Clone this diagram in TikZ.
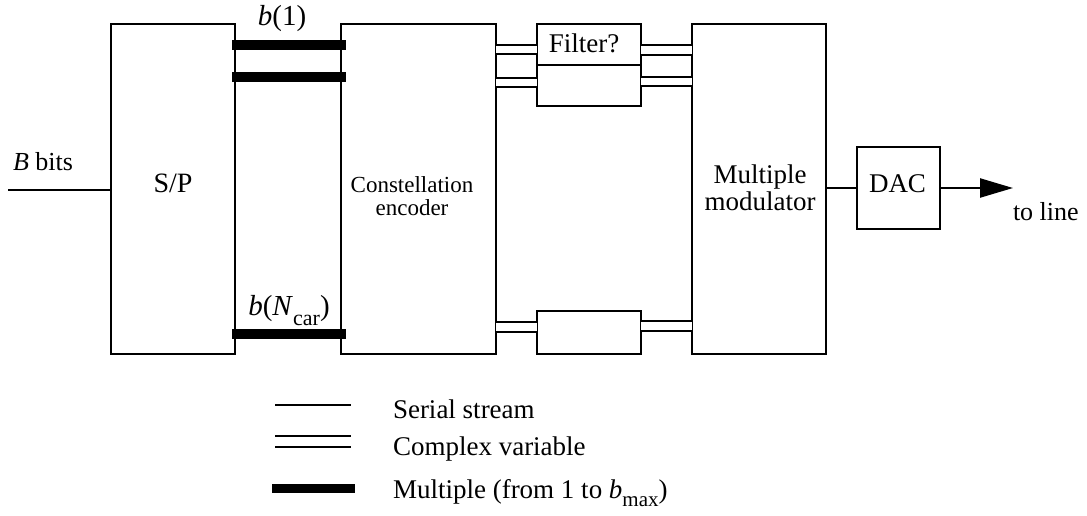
\documentclass[tikz,border=0pt]{standalone}
\usepackage{fontspec}
\setmainfont{Liberation Serif}
\usetikzlibrary{arrows.meta}
\newcommand\sz[1]{\fontsize{#1}{#1}\selectfont}
\begin{document}
\begin{tikzpicture}[x=1pt,y=-1pt,
  blk/.style={draw, line width=2.5pt, inner sep=0pt, outer sep=0pt},
  txt/.style={inner sep=0pt, outer sep=0pt, font=\sz{27}},
  serial/.style={line width=2.3pt},
  cplx/.style={double, double distance=7.8pt, line width=1.9pt},
  multi/.style={line width=10pt},
]
\useasboundingbox (0,0) rectangle (1087,516);

% processing blocks
\node[blk, minimum width=124pt, minimum height=330pt] (sp)  at (173,189) {};
\node[blk, minimum width=155pt, minimum height=330pt] (enc) at (418.5,189) {};
\node[blk, minimum width=104pt, minimum height=41pt]  (f1)  at (589,44.5) {};
\node[blk, minimum width=104pt, minimum height=41pt]  (f2)  at (589,85.5) {};
\node[blk, minimum width=104pt, minimum height=43pt]  (fn)  at (589,332.5) {};
\node[blk, minimum width=134pt, minimum height=330pt] (mod) at (759,189) {};
\node[blk, minimum width=83pt,  minimum height=82pt]  (dac) at (898.5,188) {};

% block labels
\node[txt, anchor=base, font=\sz{28}] (spT) at (173,192) {S/P};
\node[txt, align=center, font=\sz{23}, anchor=center] (encT) at (412,196) {Constellation\\[0pt]encoder};
\node[txt, anchor=base] (f1T) at (584,53) {Filter?};
\node[txt, align=center, anchor=center] (modT) at (760,188) {Multiple\\[0pt]modulator};
\node[txt, anchor=base] (dacT) at (897.5,192) {DAC};

% input
\coordinate (bin) at (8,190);
\draw[serial] (bin) -- (sp.west |- bin);
\node[txt, anchor=base west, font=\sz{26}] (binT) at (13,171) {\textit{B} bits};

% S/P outputs (multiple bits per carrier)
\draw[multi] ([xshift=-3pt]sp.east |- 0,45)  -- ([xshift=5pt]enc.west |- 0,45);
\draw[multi] ([xshift=-3pt]sp.east |- 0,77)  -- ([xshift=5pt]enc.west |- 0,77);
\draw[multi] ([xshift=-3pt]sp.east |- 0,334) -- ([xshift=5pt]enc.west |- 0,334);
\node[txt, anchor=base, font=\sz{29}] (b1) at (282,26) {\textit{b}(1)};
\node[txt, anchor=base, font=\sz{29}] (bN) at (289,315)
  {\textit{b}(\textit{N}\raisebox{-10pt}{\sz{22}car})};

% complex symbols through the filters
\draw[cplx] (enc.east |- 0,49.5) -- (f1.west |- 0,49.5);
\draw[cplx] (f1.east |- 0,50)    -- (mod.west |- 0,50);
\draw[cplx] (enc.east |- 0,82.5) -- (f2.west |- 0,82.5);
\draw[cplx] (f2.east |- 0,81.5)  -- (mod.west |- 0,81.5);
\draw[cplx] (enc.east |- 0,327)  -- (fn.west |- 0,327);
\draw[cplx] (fn.east |- 0,326)   -- (mod.west |- 0,326);

% output
\draw[serial] (mod.east |- dac.west) -- (dac.west);
\coordinate (tip) at (1013,188);
\draw[serial, -{Triangle[length=33pt,width=19pt]}] (dac.east) -- (tip);
\node[txt, anchor=base west, font=\sz{26}] (lineT) at (1013,220) {to line};

% legend
\coordinate (ls1) at (275,405); \coordinate (ls2) at (351,405);
\coordinate (lc1) at (275,441.5); \coordinate (lc2) at (351,441.5);
\coordinate (lm1) at (272,488); \coordinate (lm2) at (355,488);
\draw[serial] (ls1) -- (ls2);
\draw[cplx, double distance=9.1pt] (lc1) -- (lc2);
\draw[line width=9pt] (lm1) -- (lm2);
\node[txt, anchor=base west] (lsT) at (393,418) {Serial stream};
\node[txt, anchor=base west] (lcT) at (393,455) {Complex variable};
\node[txt, anchor=base west] (lmT) at (393,498)
  {Multiple (from 1 to \textit{b}\raisebox{-8pt}{\sz{21}max})};
\end{tikzpicture}
\end{document}
